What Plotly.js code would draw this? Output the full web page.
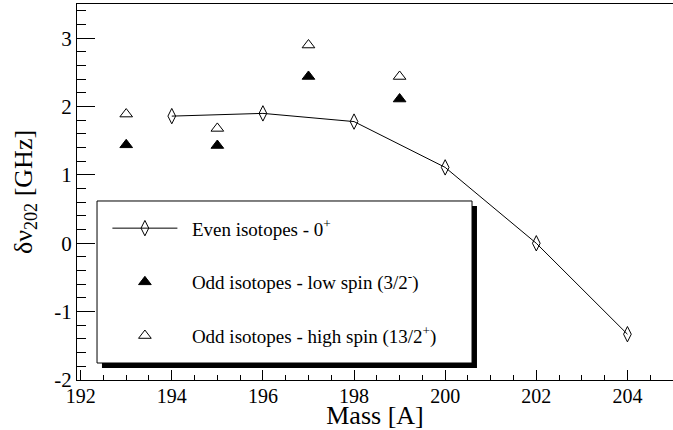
<!DOCTYPE html>
<html>
<head>
<meta charset="utf-8">
<script src="https://cdn.plot.ly/plotly-3.0.1.min.js"></script>
<style>html,body{margin:0;padding:0;background:#fff;}#chart{width:673px;height:430px;}</style>
</head>
<body>
<div id="chart"></div>
<script>
// Data
var evenMass = [194, 196, 198, 200, 202, 204];
var evenShift = [1.86, 1.90, 1.78, 1.11, 0.00, -1.33];
var oddMass = [193, 195, 197, 199];
var lowSpinShift = [1.44, 1.43, 2.44, 2.11];
var highSpinShift = [1.89, 1.68, 2.90, 2.44];
var seriesNames = [
  'Even isotopes - 0<sup>+</sup>',
  'Odd isotopes - low spin (3/2<sup>-</sup>)',
  'Odd isotopes - high spin (13/2<sup>+</sup>)'
];
var xTickVals = [192, 194, 196, 198, 200, 202, 204];
var yTickVals = [-2, -1, 0, 1, 2, 3];

var serif = 'Liberation Serif';
var pad = '\u00a0\u00a0';

var traces = [
  {x: evenMass, y: evenShift, name: pad + seriesNames[0], mode: 'lines+markers', legendgroup: 'a',
   line: {color: '#000', width: 1},
   marker: {symbol: 'diamond-tall-open', size: 11, color: '#000', line: {width: 1, color: '#000'}}},
  {x: oddMass, y: lowSpinShift, name: pad + seriesNames[1], mode: 'markers', legendgroup: 'b',
   marker: {symbol: 'triangle-up', size: 11, color: '#000', line: {width: 1, color: '#000'}}},
  {x: oddMass, y: highSpinShift, name: pad + seriesNames[2], mode: 'markers', legendgroup: 'c',
   marker: {symbol: 'triangle-up-open', size: 11, color: '#000', line: {width: 1, color: '#000'}}}
];

var layout = {
  width: 673, height: 430,
  margin: {l: 77, r: 0, t: 4, b: 50},
  paper_bgcolor: '#fff', plot_bgcolor: '#fff',
  font: {family: serif, color: '#000'},
  showlegend: true,
  legend: {
    x: 0.051, y: 0.454, xanchor: 'left', yanchor: 'top',
    bgcolor: 'rgba(0,0,0,0)', borderwidth: 0,
    font: {family: serif, size: 19, color: '#000'},
    itemwidth: 65, tracegroupgap: 26, traceorder: 'grouped'
  },
  xaxis: {
    range: [191.92, 205], tickvals: xTickVals, ticktext: xTickVals.map(String),
    ticks: 'inside', ticklen: 10, tickwidth: 1, tickcolor: '#000',
    minor: {dtick: 0.5, tick0: 192, ticks: 'inside', ticklen: 5, tickwidth: 1, tickcolor: '#000'},
    showline: true, linecolor: '#000', linewidth: 1, mirror: true,
    showgrid: false, zeroline: false, ticklabelstandoff: -2,
    tickfont: {family: serif, size: 20, color: '#000'},
    title: {text: 'Mass [A]', font: {family: serif, size: 26, color: '#000'}, standoff: 0}
  },
  yaxis: {
    range: [-2, 3.5], tickvals: yTickVals, ticktext: yTickVals.map(String),
    ticks: 'inside', ticklen: 18, tickwidth: 1, tickcolor: '#000',
    minor: {dtick: 0.2, tick0: 0, ticks: 'inside', ticklen: 9, tickwidth: 1, tickcolor: '#000'},
    showline: true, linecolor: '#000', linewidth: 1,
    showgrid: false, zeroline: false,
    tickfont: {family: serif, size: 21, color: '#000'},
    title: {text: '\u03b4\u03bd<sub>202</sub> [GHz]', font: {family: serif, size: 26, color: '#000'}, standoff: 14}
  },
  shapes: [
    {type: 'rect', xref: 'paper', yref: 'paper', x0: 0.0419, x1: 0.6711, y0: 0.0319, y1: 0.4628,
     fillcolor: '#000', line: {width: 0}, layer: 'above'},
    {type: 'rect', xref: 'paper', yref: 'paper', x0: 0.0336, x1: 0.6628, y0: 0.0452, y1: 0.4761,
     fillcolor: '#fff', line: {width: 1, color: '#000'}, layer: 'above'}
  ]
};

Plotly.newPlot('chart', traces, layout, {displayModeBar: false, staticPlot: true});
</script>
</body>
</html>
